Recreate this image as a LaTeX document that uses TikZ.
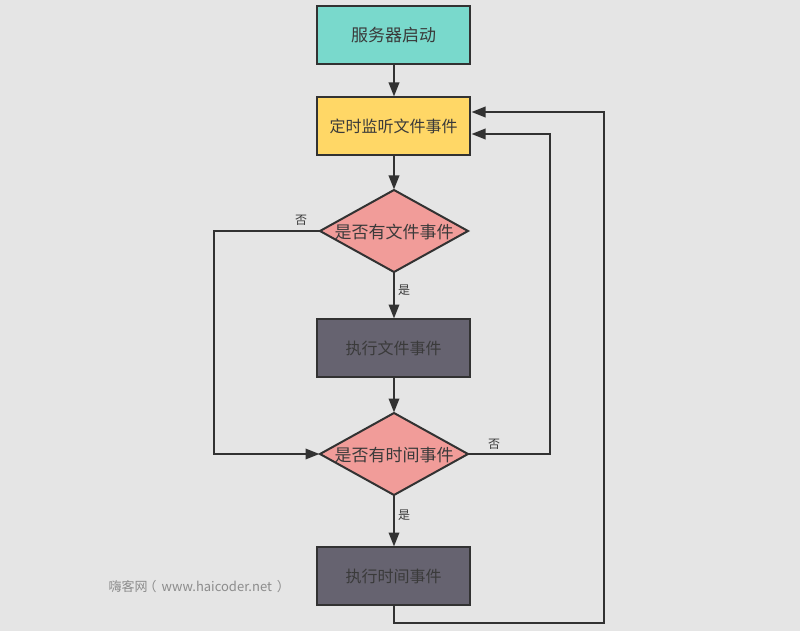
\documentclass[tikz,border=0pt]{standalone}
\usepackage{fontspec}
\setmainfont{Noto Sans CJK SC}
\usetikzlibrary{shapes.geometric,arrows.meta}
\definecolor{bgc}{HTML}{E5E5E5}
\definecolor{linec}{HTML}{323232}
\definecolor{txt}{HTML}{3A3A3A}
\definecolor{tealc}{HTML}{79D9CC}
\definecolor{yellowc}{HTML}{FFD766}
\definecolor{pinkc}{HTML}{F19C99}
\definecolor{darkc}{HTML}{666370}
\definecolor{wm}{HTML}{8C8C8C}
\newcommand{\diatext}[1]{\makebox[0pt]{\smash{\raisebox{-7pt}{#1}}}}
\tikzset{
  x=1pt,y=-1pt,
  boxn/.style={draw=linec,line width=2pt,rectangle,minimum width=153pt,minimum height=58pt,inner sep=0pt,outer sep=0pt,text=txt,font=\fontsize{16}{18}\selectfont},
  dia/.style={draw=linec,line width=2pt,diamond,aspect=1.805,minimum width=148pt,minimum height=82pt,inner sep=0pt,outer sep=0pt,fill=pinkc,text=txt,font=\fontsize{17}{18}\selectfont},
  flow/.style={draw=linec,line width=2pt,-{Triangle[length=14pt,width=10.5pt]},shorten >=0.5pt},
  lab/.style={text=txt,font=\fontsize{12}{14}\selectfont,inner sep=0pt},
}
\begin{document}
\begin{tikzpicture}
\fill[bgc] (0,0) rectangle (800,631);
\useasboundingbox (0,0) rectangle (800,631);
\node[boxn,fill=tealc,font=\fontsize{17}{18}\selectfont] (start) at (393.5,35.5) {服务器启动};
\node[boxn,fill=yellowc] (timer) at (393.5,126) {定时监听文件事件};
\node[dia] (fileq) at (394,231) {\diatext{是否有文件事件}};
\node[boxn,fill=darkc] (fileact) at (393.5,348) {执行文件事件};
\node[dia] (timeq) at (394,454) {\diatext{是否有时间事件}};
\node[boxn,fill=darkc] (timeact) at (393.5,576) {执行时间事件};
\coordinate (inA) at (471,112);
\coordinate (inB) at (471,134);
\coordinate (leftA) at (214,231);
\coordinate (leftB) at (214,454);
\coordinate (rightA) at (550,454);
\coordinate (rightB) at (550,134);
\coordinate (outA) at (394,623);
\coordinate (outB) at (604,623);
\coordinate (outC) at (604,112);
\draw[flow] (start.south -| fileq.north) -- (timer.north -| fileq.north);
\draw[flow] (timer.south -| fileq.north) -- (fileq.north);
\draw[flow] (fileq.south) -- (fileact.north -| fileq.south);
\draw[flow] (fileact.south -| fileq.north) -- (timeq.north);
\draw[flow] (timeq.south) -- (timeact.north -| timeq.south);
\draw[flow] (fileq.west) -- (leftA) -- (leftB) -- (timeq.west);
\draw[flow] (timeq.east) -- (rightA) -- (rightB) -- (inB);
\draw[flow] (timeact.south -| outA) -- (outA) -- (outB) -- (outC) -- (inA);
\node[lab] (no1) at (301,220) {否};
\node[lab] (yes1) at (404,290.5) {是};
\node[lab] (no2) at (494,444.5) {否};
\node[lab] (yes2) at (404,515.5) {是};
\node[text=wm,inner sep=0pt,anchor=west,font=\fontsize{13}{15}\selectfont] (mark) at (108.5,587) {嗨客网\hspace{-4pt}（\hspace{5pt}www.haicoder.net\hspace{5pt}）};
\end{tikzpicture}
\end{document}
